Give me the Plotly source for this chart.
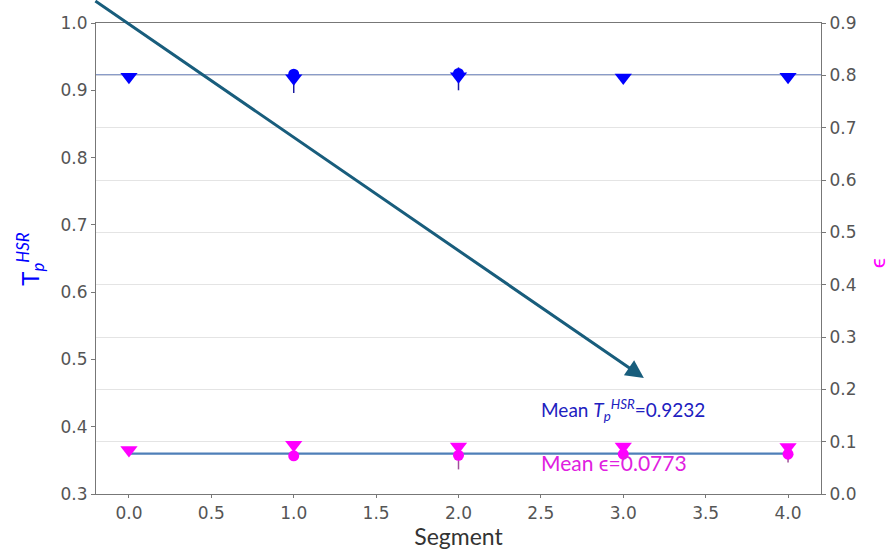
import plotly.graph_objects as go

segments = [0, 1, 2, 3, 4]
T_tri = [0.920, 0.918, 0.921, 0.919, 0.920]
T_circ = [None, 0.924, 0.925, None, None]
T_err_plus = [0.0, 0.002, 0.009, 0.0, 0.0]
T_err_minus = [0.0, 0.028, 0.025, 0.0, 0.0]
T_mean = 0.9232

eps_tri = [0.084, 0.094, 0.091, 0.091, 0.090]
eps_circ = [None, 0.073, 0.074, 0.076, 0.076]
eps_err_plus = [0.0, 0.012, 0.020, 0.006, 0.018]
eps_err_minus = [0.0, 0.008, 0.027, 0.006, 0.016]
eps_mean = 0.0773

BLUE = "#0000ff"
MAG = "#ff00ff"
FONT = "DejaVu Sans"

fig = go.Figure()

# mean lines
fig.add_trace(go.Scatter(x=[-0.2, 4.2], y=[T_mean, T_mean], mode="lines",
                         line=dict(color="#8a9cc8", width=1.2), showlegend=False,
                         hoverinfo="skip"))
fig.add_trace(go.Scatter(x=[segments[0], segments[-1]], y=[eps_mean, eps_mean], mode="lines",
                         line=dict(color="#4f7fb8", width=2.2), showlegend=False,
                         yaxis="y2", hoverinfo="skip"))

# blue series
fig.add_trace(go.Scatter(x=segments, y=T_circ, mode="markers",
                         marker=dict(symbol="circle", size=11, color=BLUE),
                         error_y=dict(type="data", array=T_err_plus, arrayminus=T_err_minus,
                                      color="#1a1aa0", thickness=1.5, width=0),
                         showlegend=False))
fig.add_trace(go.Scatter(x=segments, y=T_tri, mode="markers",
                         marker=dict(symbol="triangle-down", size=15, color=BLUE),
                         showlegend=False))

# magenta series
fig.add_trace(go.Scatter(x=segments, y=eps_circ, mode="markers", yaxis="y2",
                         marker=dict(symbol="circle", size=11, color=MAG),
                         error_y=dict(type="data", array=eps_err_plus, arrayminus=eps_err_minus,
                                      color="#a0509a", thickness=1.5, width=0),
                         showlegend=False))
fig.add_trace(go.Scatter(x=segments, y=eps_tri, mode="markers", yaxis="y2",
                         marker=dict(symbol="triangle-down", size=15, color=MAG),
                         showlegend=False))

tickfont = dict(family=FONT, size=17, color="#555555")

fig.update_layout(
    width=896, height=555,
    margin=dict(l=96, r=75, t=23, b=61),
    plot_bgcolor="white", paper_bgcolor="white",
    xaxis=dict(range=[-0.2, 4.2], tickvals=[0, 0.5, 1, 1.5, 2, 2.5, 3, 3.5, 4],
               tickformat=".1f", tickfont=tickfont, showgrid=False, zeroline=False,
               showline=True, linecolor="#777777", linewidth=1.2, mirror=True,
               ticks="outside", ticklen=3, tickcolor="#777777",
               title=dict(text="Segment", font=dict(family="Lato", size=23, color="#333333"),
                          standoff=4)),
    yaxis=dict(range=[0.3, 1.0], dtick=0.1, tickformat=".1f", tickfont=tickfont,
               showgrid=False, zeroline=False, showline=True, linecolor="#777777",
               linewidth=1.2, ticks="outside", ticklen=4, tickcolor="#777777"),
    yaxis2=dict(range=[0.0, 0.9], dtick=0.1, tickformat=".1f", tickfont=tickfont,
                overlaying="y", side="right", showgrid=True, gridcolor="#e4e4e4",
                gridwidth=1, zeroline=False, showline=True, linecolor="#777777",
                linewidth=1.2, ticks="outside", ticklen=4, tickcolor="#777777"),
    showlegend=False,
)

fig.add_annotation(xref="paper", yref="paper", x=-0.092, y=0.5, textangle=-90,
                   text="T<sub><i>p</i></sub><sup><i>HSR</i></sup>", showarrow=False,
                   font=dict(family="Lato", size=24, color=BLUE), xanchor="center", yanchor="middle")
fig.add_annotation(xref="paper", yref="paper", x=1.076, y=0.49, textangle=-90,
                   text="ϵ", showarrow=False,
                   font=dict(family="Lato", size=22, color=MAG), xanchor="center", yanchor="middle")

fig.add_annotation(x=2.49, y=0.425, xref="x", yref="y", xanchor="left",
                   text="Mean <i>T</i><sub><i>p</i></sub><sup><i>HSR</i></sup>=0.9232",
                   showarrow=False, font=dict(family="Lato", size=19, color="#2020c0"))
fig.add_annotation(x=2.49, y=0.347, xref="x", yref="y", xanchor="left",
                   text="Mean ϵ=0.0773", showarrow=False,
                   font=dict(family="Lato", size=21, color="#e020e0"))

# arrow
fig.add_annotation(x=3.125, y=0.4725, xref="x", yref="y", ax=-550, ay=-385,
                   axref="pixel", ayref="pixel", text="", showarrow=True,
                   arrowhead=2, arrowsize=1.2, arrowwidth=3, arrowcolor="#185d7c")

fig.write_html("out.html")
